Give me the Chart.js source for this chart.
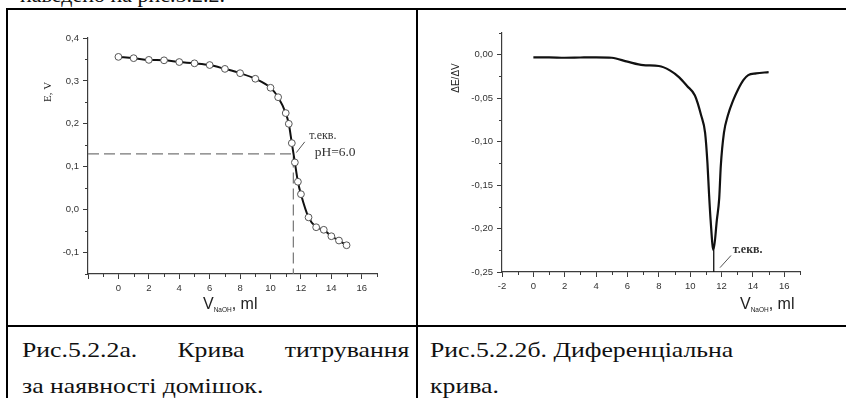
<!DOCTYPE html>
<html>
<head>
<meta charset="utf-8">
<script src="https://cdn.jsdelivr.net/npm/chart.js@4.4.1/dist/chart.umd.min.js"></script>
<style>
    html, body { margin: 0; padding: 0; background: #fff; }
    body { width: 846px; height: 398px; position: relative; overflow: hidden; color: #111; }
    .rule { position: absolute; background: #000; }
    .txt { position: absolute; white-space: nowrap; font-family: "Liberation Serif", "Times New Roman", serif; }
    .cap { position: absolute; font-family: "Liberation Serif", "Times New Roman", serif; font-size: 22px; line-height: 36px; white-space: nowrap; transform: scaleX(1.17); transform-origin: 0 0; }
    canvas { position: absolute; }
</style>
</head>
<body>
<div class="txt" style="left:20px; top:-16px; font-size:22px; line-height:22px;">наведено на рис.5.2.2.</div>

<div class="rule" style="left:6px; top:8px; width:840px; height:2px;"></div>
<div class="rule" style="left:6px; top:8px; width:2px; height:390px;"></div>
<div class="rule" style="left:416px; top:8px; width:2px; height:390px;"></div>
<div class="rule" style="left:6px; top:325px; width:840px; height:2px;"></div>

<canvas id="chartA" width="408" height="315" style="left:8px; top:10px;"></canvas>
<canvas id="chartB" width="428" height="315" style="left:418px; top:10px;"></canvas>

<div class="cap" style="left:22px; top:332px; width:331px; text-align:justify; text-align-last:justify;">Рис.5.2.2а. Крива титрування</div>
<div class="cap" style="left:22px; top:368px;">за наявності домішок.</div>
<div class="cap" style="left:430px; top:332px;">Рис.5.2.2б. Диференціальна</div>
<div class="cap" style="left:430px; top:368px;">крива.</div>

<script>
// titration curve (a)
const volA = [0, 1, 2, 3, 4, 5, 6, 7, 8, 9, 10, 10.5, 11, 11.2, 11.4, 11.6, 11.8, 12, 12.5, 13, 13.5, 14, 14.5, 15];
const potA = [0.356, 0.353, 0.349, 0.348, 0.344, 0.341, 0.337, 0.328, 0.318, 0.305, 0.284, 0.262, 0.225, 0.200, 0.155, 0.110, 0.065, 0.036, -0.018, -0.041, -0.047, -0.062, -0.072, -0.083];
const eqVol = 11.5;
const eqPot = 0.13;
const xTicksA = [-2, 0, 2, 4, 6, 8, 10, 12, 14, 16];
const xMinorA = [-1, 1, 3, 5, 7, 9, 11, 13, 15, 17];
const yTicksA = [-0.1, 0, 0.1, 0.2, 0.3, 0.4];
const yMinorA = [-0.15, -0.05, 0.05, 0.15, 0.25, 0.35];

// differential curve (b)
const volB = [0, 1, 2, 3, 4, 5, 6, 7, 8, 8.7, 9.3, 9.8, 10.3, 10.7, 10.95, 11.1, 11.2, 11.3, 11.48, 11.7, 11.85, 11.95, 12.15, 12.4, 12.75, 13.05, 13.4, 13.7, 14.2, 15];
const dEdV = [-0.003, -0.003, -0.0035, -0.0032, -0.003, -0.0035, -0.008, -0.012, -0.013, -0.018, -0.026, -0.036, -0.047, -0.07, -0.09, -0.125, -0.16, -0.19, -0.225, -0.19, -0.165, -0.128, -0.09, -0.07, -0.052, -0.04, -0.029, -0.0235, -0.0215, -0.02];
const xTicksB = [-2, 0, 2, 4, 6, 8, 10, 12, 14, 16];
const xMinorB = [-1, 1, 3, 5, 7, 9, 11, 13, 15, 17];
const yTicksB = [-0.25, -0.2, -0.15, -0.1, -0.05, 0];
const yMinorB = [-0.225, -0.175, -0.125, -0.075, -0.025, 0.025];

const AXIS = '#3c3c3c';
const TICK_FONT = { family: '"Liberation Sans", Arial, sans-serif', size: 9.5 };
const SERIF = '"Liberation Serif", "Times New Roman", serif';
const SANS = '"Liberation Sans", Arial, sans-serif';

const comma = (v, d) => v.toFixed(d).replace('.', ',');

function axis(min, max, ticks, size, horizontal, fmt) {
    return {
        type: 'linear',
        min: min,
        max: max,
        afterBuildTicks: (scale) => {
            scale.ticks = ticks.map((v) => ({ value: v }));
        },
        afterFit: (scale) => {
            if (horizontal) {
                scale.height = size;
            } else {
                scale.width = size;
            }
        },
        grid: { drawOnChartArea: false, drawTicks: true, tickLength: 5, color: AXIS, lineWidth: 1 },
        border: { display: true, color: AXIS, width: 1.2 },
        ticks: { font: TICK_FONT, color: '#333', padding: 4, maxRotation: 0, autoSkip: false, callback: fmt },
    };
}

const minorTicks = {
    id: 'minorTicks',
    afterDraw(chart, args, opts) {
        const { ctx } = chart;
        const xs = chart.scales.x;
        const ys = chart.scales.y;
        ctx.save();
        ctx.strokeStyle = AXIS;
        ctx.lineWidth = 1;
        ctx.beginPath();
        opts.x.forEach((v) => {
            const px = Math.round(xs.getPixelForValue(v)) + 0.5;
            ctx.moveTo(px, ys.bottom);
            ctx.lineTo(px, ys.bottom + 3);
        });
        opts.y.forEach((v) => {
            const py = Math.round(ys.getPixelForValue(v)) + 0.5;
            ctx.moveTo(xs.left, py);
            ctx.lineTo(xs.left - 3, py);
        });
        ctx.stroke();
        ctx.restore();
    },
};

function drawVTitle(ctx, x, y, font) {
    ctx.font = font;
    let cx = x;
    ctx.textBaseline = 'middle';
    ctx.textAlign = 'left';
    ctx.fillText('V', cx, y);
    cx += ctx.measureText('V').width;
    ctx.font = '6.5px ' + SANS;
    ctx.fillText('NaOH', cx, y + 5);
    cx += ctx.measureText('NaOH').width;
    ctx.font = font;
    ctx.fillText(', ml', cx, y);
}

function leader(ctx, xs, ys, a, b) {
    ctx.beginPath();
    ctx.moveTo(xs.getPixelForValue(a[0]), ys.getPixelForValue(a[1]));
    ctx.lineTo(xs.getPixelForValue(b[0]), ys.getPixelForValue(b[1]));
    ctx.stroke();
}

const notesA = {
    id: 'notesA',
    afterDraw(chart) {
        const { ctx } = chart;
        const xs = chart.scales.x;
        const ys = chart.scales.y;
        ctx.save();
        ctx.fillStyle = '#333';
        ctx.strokeStyle = '#555';
        ctx.lineWidth = 1;
        leader(ctx, xs, ys, [11.7, 0.133], [12.25, 0.158]);
        ctx.textBaseline = 'middle';
        ctx.textAlign = 'left';
        ctx.font = '12px ' + SERIF;
        ctx.fillText('т.екв.', xs.getPixelForValue(12.55), ys.getPixelForValue(0.172));
        ctx.font = '13.5px ' + SERIF;
        ctx.fillText('pH=6.0', xs.getPixelForValue(12.9), ys.getPixelForValue(0.133));

        ctx.fillStyle = '#222';
        drawVTitle(ctx, 195, 295, '16px ' + SANS);

        ctx.translate(40, 82);
        ctx.rotate(-Math.PI / 2);
        ctx.textAlign = 'center';
        ctx.font = '11px ' + SERIF;
        ctx.fillText('E, V', 0, 0);
        ctx.restore();
    },
};

const notesB = {
    id: 'notesB',
    afterDraw(chart) {
        const { ctx } = chart;
        const xs = chart.scales.x;
        const ys = chart.scales.y;
        ctx.save();
        ctx.fillStyle = '#333';
        ctx.strokeStyle = '#555';
        ctx.lineWidth = 1;
        leader(ctx, xs, ys, [11.9, -0.245], [12.6, -0.231]);
        ctx.textBaseline = 'middle';
        ctx.textAlign = 'left';
        ctx.font = 'bold 12px ' + SERIF;
        ctx.fillText('т.екв.', xs.getPixelForValue(12.72), ys.getPixelForValue(-0.2244));

        ctx.fillStyle = '#222';
        drawVTitle(ctx, 322, 295, '16px ' + SANS);

        ctx.translate(38, 68);
        ctx.rotate(-Math.PI / 2);
        ctx.textAlign = 'center';
        ctx.font = '10px ' + SANS;
        ctx.fillText('ΔE/ΔV', 0, 0);
        ctx.restore();
    },
};

new Chart(document.getElementById('chartA'), {
    type: 'scatter',
    data: {
        datasets: [
            {
                data: volA.map((v, i) => ({ x: v, y: potA[i] })),
                showLine: true,
                borderColor: '#111',
                borderWidth: 2,
                cubicInterpolationMode: 'monotone',
                pointRadius: 3.4,
                pointBackgroundColor: '#fff',
                pointBorderColor: '#555',
                pointBorderWidth: 1,
            },
            {
                data: [{ x: xTicksA[0], y: eqPot }, { x: eqVol, y: eqPot }, { x: eqVol, y: yMinorA[0] }],
                showLine: true,
                borderColor: '#777',
                borderWidth: 1.2,
                borderDash: [11, 5],
                pointRadius: 0,
            },
        ],
    },
    options: {
        responsive: false,
        animation: false,
        layout: { padding: { left: 0, top: 28, right: 39, bottom: 0 } },
        plugins: {
            legend: { display: false },
            tooltip: { enabled: false },
            minorTicks: { x: xMinorA, y: yMinorA },
        },
        scales: {
            x: axis(-2, 17, xTicksA, 51, true, (v) => (v === -2 ? '' : String(v))),
            y: axis(-0.15, 0.4, yTicksA, 80, false, (v) => comma(v, 1)),
        },
    },
    plugins: [minorTicks, notesA],
});

new Chart(document.getElementById('chartB'), {
    type: 'scatter',
    data: {
        datasets: [
            {
                data: volB.map((v, i) => ({ x: v, y: dEdV[i] })),
                showLine: true,
                borderColor: '#111',
                borderWidth: 2.2,
                cubicInterpolationMode: 'monotone',
                pointRadius: 0,
            },
            {
                data: [{ x: eqVol, y: -0.225 }, { x: eqVol, y: yTicksB[0] }],
                showLine: true,
                borderColor: '#111',
                borderWidth: 1.3,
                pointRadius: 0,
            },
        ],
    },
    options: {
        responsive: false,
        animation: false,
        layout: { padding: { left: 0, top: 23, right: 46, bottom: 0 } },
        plugins: {
            legend: { display: false },
            tooltip: { enabled: false },
            minorTicks: { x: xMinorB, y: yMinorB },
        },
        scales: {
            x: axis(-2, 17, xTicksB, 53, true, (v) => String(v)),
            y: axis(-0.25, 0.025, yTicksB, 84, false, (v) => comma(v, 2)),
        },
    },
    plugins: [minorTicks, notesB],
});
</script>
</body>
</html>
